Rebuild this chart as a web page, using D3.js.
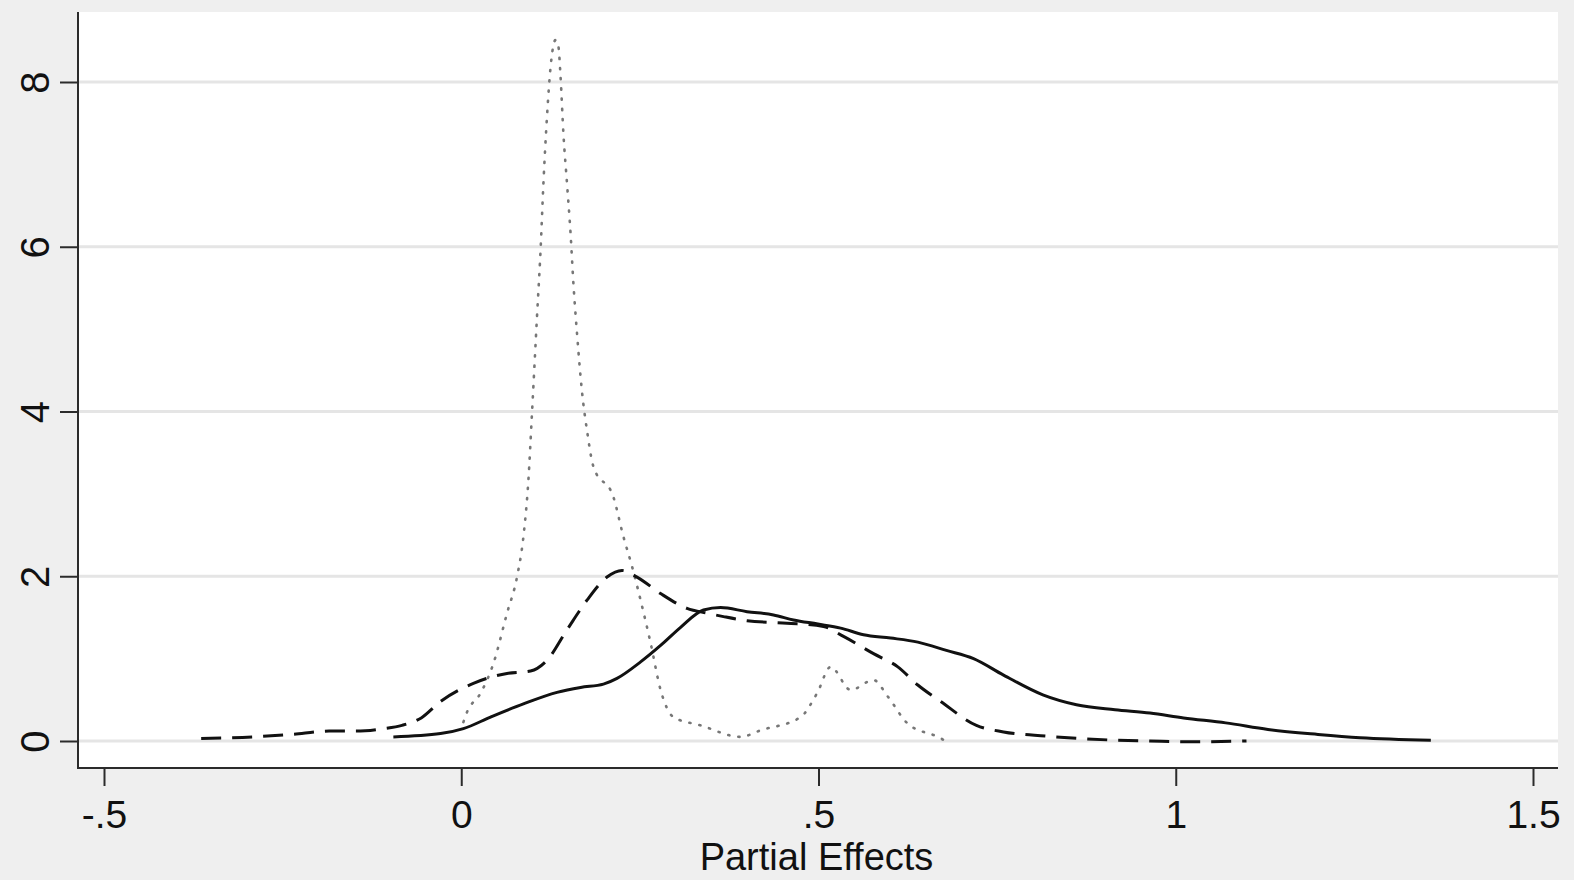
<!DOCTYPE html>
<meta charset="utf-8">
<style>

body {
  margin: 0;
  background: #efefef;
}

text {
  font-family: "Liberation Sans", Arial, sans-serif;
  fill: #111;
}

.grid line {
  stroke: #e5e5e5;
  stroke-width: 2.8;
}

.axis line, .axis path {
  stroke: #2b2b2b;
  stroke-width: 2;
}

</style>
<svg width="1574" height="880"></svg>
<script src="https://d3js.org/d3.v7.min.js"></script>
<script>

// tick labels
var xTicks = [-0.5, 0, 0.5, 1, 1.5],
    xTickLabels = ["-.5", "0", ".5", "1", "1.5"],
    yTicks = [0, 2, 4, 6, 8];

// kernel density curves: [partial effect, density]
var solid = [
  [-0.095, 0.05], [-0.029, 0.09], [0.003, 0.15], [0.041, 0.29], [0.087, 0.45],
  [0.134, 0.59], [0.167, 0.65], [0.199, 0.69], [0.218, 0.76], [0.251, 0.96],
  [0.279, 1.16], [0.307, 1.38], [0.339, 1.59], [0.363, 1.62], [0.400, 1.57],
  [0.437, 1.53], [0.465, 1.47], [0.499, 1.42], [0.531, 1.37], [0.563, 1.29],
  [0.601, 1.25], [0.639, 1.20], [0.679, 1.10], [0.717, 1.00], [0.759, 0.80],
  [0.814, 0.56], [0.861, 0.44], [0.915, 0.38], [0.964, 0.34], [1.011, 0.28],
  [1.070, 0.22], [1.129, 0.14], [1.199, 0.08], [1.258, 0.04], [1.357, 0.01]
];

var dashed = [
  [-0.364, 0.03], [-0.291, 0.05], [-0.238, 0.08], [-0.185, 0.12], [-0.147, 0.12],
  [-0.109, 0.15], [-0.083, 0.19], [-0.056, 0.28], [-0.029, 0.48], [0.017, 0.70],
  [0.064, 0.82], [0.097, 0.85], [0.120, 0.98], [0.148, 1.35], [0.176, 1.71],
  [0.204, 1.99], [0.225, 2.07], [0.246, 1.99], [0.279, 1.79], [0.316, 1.61],
  [0.345, 1.55], [0.367, 1.51], [0.400, 1.46], [0.456, 1.43], [0.507, 1.39],
  [0.535, 1.27], [0.577, 1.06], [0.611, 0.90], [0.639, 0.68], [0.671, 0.48],
  [0.721, 0.19], [0.759, 0.11], [0.818, 0.06], [0.867, 0.03], [0.915, 0.01],
  [0.964, 0.0], [1.017, -0.01], [1.099, 0.0]
];

var dotted = [
  [0.003, 0.23], [0.008, 0.35], [0.027, 0.58], [0.045, 0.94], [0.064, 1.55],
  [0.078, 1.99], [0.087, 2.48], [0.094, 3.17], [0.099, 3.98], [0.106, 5.15],
  [0.111, 5.96], [0.115, 6.77], [0.120, 7.58], [0.125, 8.18], [0.132, 8.51],
  [0.136, 8.43], [0.139, 8.06], [0.143, 7.37], [0.148, 6.77], [0.153, 6.16],
  [0.157, 5.55], [0.162, 4.95], [0.169, 4.24], [0.176, 3.77], [0.185, 3.33],
  [0.213, 2.96], [0.227, 2.48], [0.239, 2.12], [0.251, 1.71], [0.265, 1.19],
  [0.279, 0.62], [0.297, 0.29], [0.335, 0.19], [0.391, 0.05], [0.419, 0.13],
  [0.475, 0.29], [0.498, 0.58], [0.517, 0.90], [0.545, 0.62], [0.577, 0.74],
  [0.597, 0.54], [0.625, 0.21], [0.667, 0.05], [0.678, 0.0]
];

var svg = d3.select("svg"),
    box = {left: 78, right: 1558, top: 12, bottom: 768};

var x = d3.scaleLinear().domain([-0.5, 1.5]).range([104, 1533]),
    y = d3.scaleLinear().domain([0, 8]).range([741, 82]);

// plot region
svg.append("rect")
    .attr("x", box.left)
    .attr("y", box.top)
    .attr("width", box.right - box.left)
    .attr("height", box.bottom - box.top)
    .attr("fill", "#fff");

// horizontal grid
svg.append("g")
    .attr("class", "grid")
  .selectAll("line")
  .data(yTicks)
  .enter().append("line")
    .attr("x1", box.left)
    .attr("x2", box.right)
    .attr("y1", function(d) { return y(d); })
    .attr("y2", function(d) { return y(d); });

var line = d3.line()
    .x(function(d) { return x(d[0]); })
    .y(function(d) { return y(d[1]); })
    .curve(d3.curveMonotoneX);

svg.append("path")
    .datum(dotted)
    .attr("d", line)
    .attr("fill", "none")
    .attr("stroke", "#777")
    .attr("stroke-width", 2.6)
    .attr("stroke-linecap", "round")
    .attr("stroke-dasharray", "1.2,9");

svg.append("path")
    .datum(dashed)
    .attr("d", line)
    .attr("fill", "none")
    .attr("stroke", "#111")
    .attr("stroke-width", 3)
    .attr("stroke-dasharray", "20,11");

svg.append("path")
    .datum(solid)
    .attr("d", line)
    .attr("fill", "none")
    .attr("stroke", "#111")
    .attr("stroke-width", 3);

// x axis
var xAxis = d3.axisBottom(x)
    .tickValues(xTicks)
    .tickFormat(function(d, i) { return xTickLabels[i]; })
    .tickSize(18)
    .tickSizeOuter(0)
    .tickPadding(14);

var gx = svg.append("g")
    .attr("class", "axis")
    .attr("transform", "translate(0," + box.bottom + ")")
    .call(xAxis);
gx.select(".domain").remove();
gx.append("line")
    .attr("x1", box.left - 1)
    .attr("x2", box.right)
    .attr("y1", 0)
    .attr("y2", 0);
gx.selectAll(".tick text")
    .attr("font-size", 39)
    .attr("font-family", null)
    .attr("fill", "#111");

// y axis
var yAxis = d3.axisLeft(y)
    .tickValues(yTicks)
    .tickSize(18)
    .tickSizeOuter(0)
    .tickFormat(d3.format("d"));

var gy = svg.append("g")
    .attr("class", "axis")
    .attr("transform", "translate(" + box.left + ",0)")
    .call(yAxis);
gy.select(".domain").remove();
gy.append("line")
    .attr("x1", 0)
    .attr("x2", 0)
    .attr("y1", box.top)
    .attr("y2", box.bottom + 1);
gy.selectAll(".tick text")
    .attr("font-size", 40)
    .attr("font-family", null)
    .attr("fill", "#111")
    .attr("x", null)
    .attr("dy", null)
    .attr("text-anchor", "middle")
    .attr("transform", "translate(-29,0) rotate(-90)");

svg.append("text")
    .attr("x", x(0.5) - 2)
    .attr("y", 870)
    .attr("text-anchor", "middle")
    .attr("font-size", 38)
    .text("Partial Effects");

</script>
